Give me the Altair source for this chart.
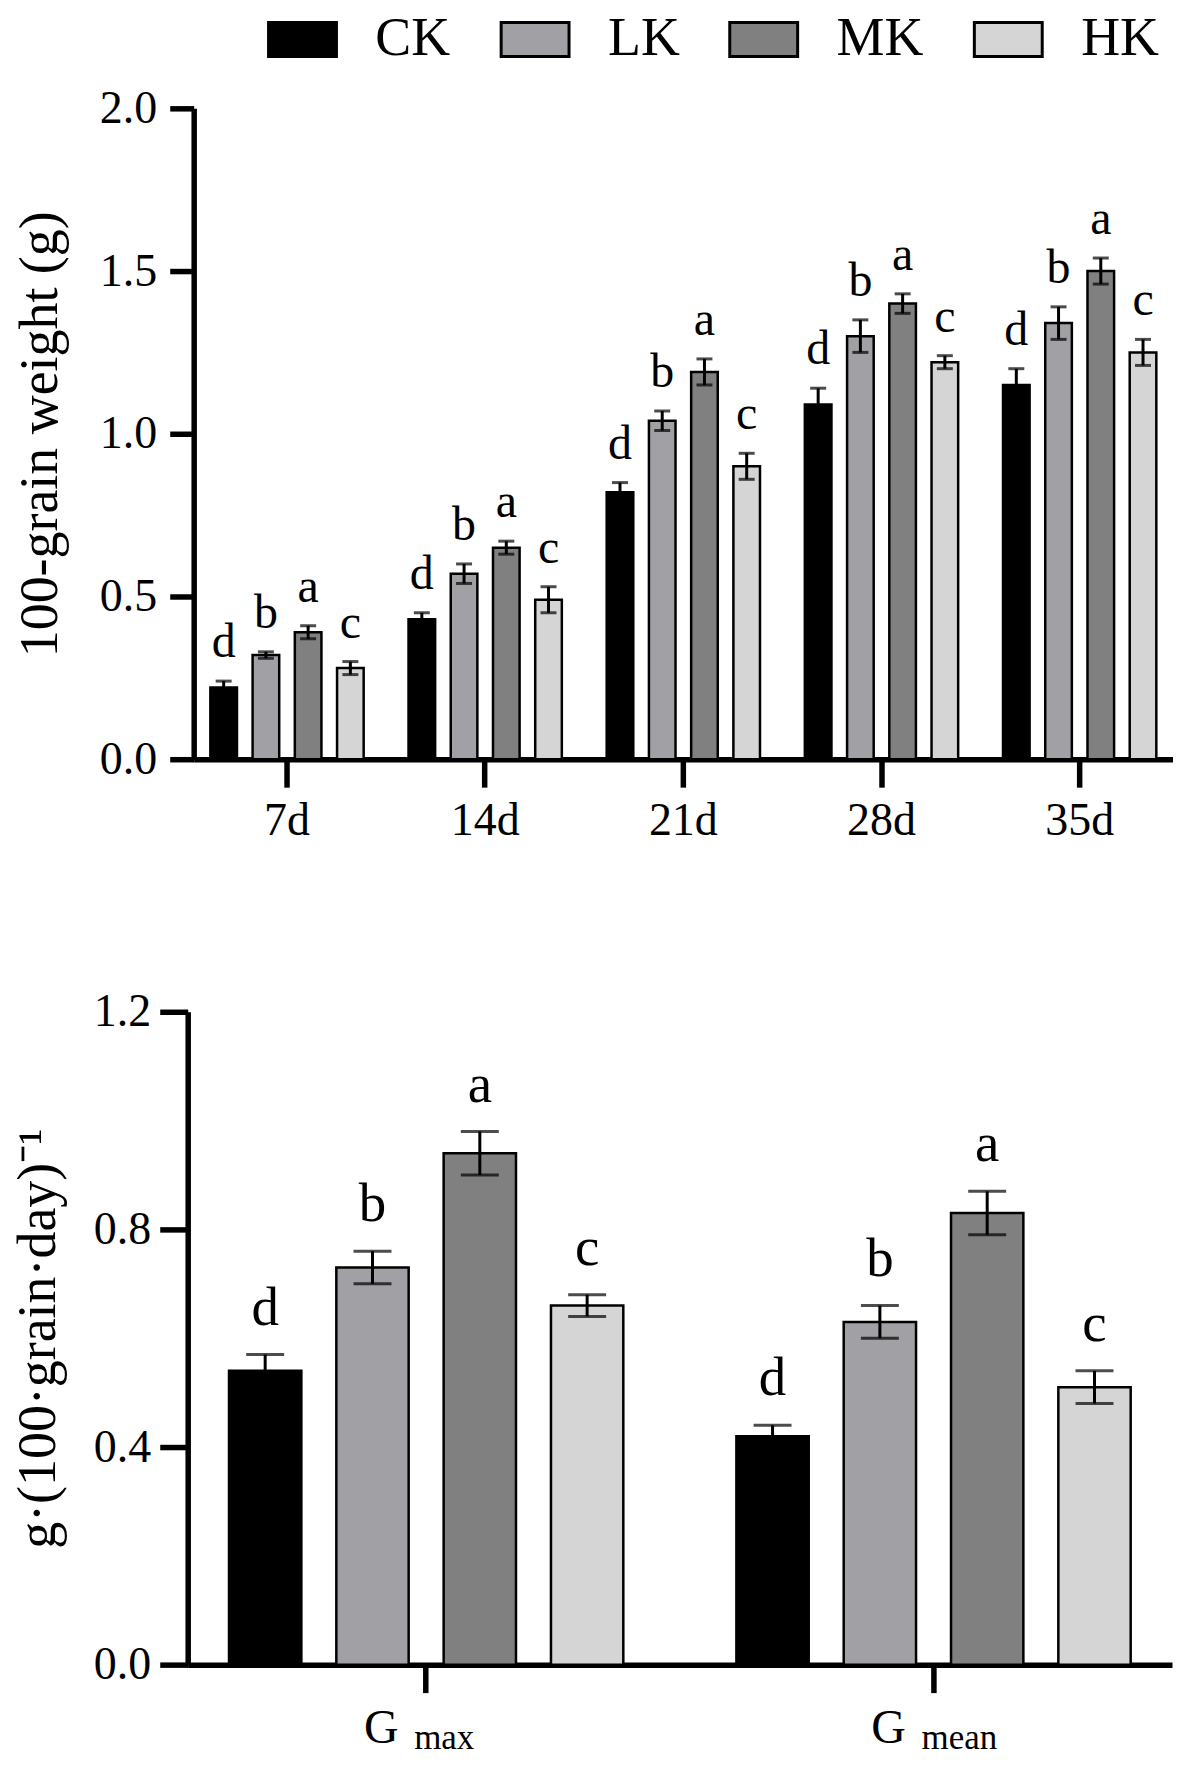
import altair as alt
import pandas as pd

FONT = "Liberation Serif"

# ---------------- data ----------------
days = ["7d", "14d", "21d", "28d", "35d"]
treatments = ["CK", "LK", "MK", "HK"]
colors = ["#000000", "#a1a1a5", "#808080", "#d5d5d5"]

weight_CK = [0.22, 0.43, 0.82, 1.09, 1.15]
weight_LK = [0.32, 0.57, 1.04, 1.30, 1.34]
weight_MK = [0.39, 0.65, 1.19, 1.40, 1.50]
weight_HK = [0.28, 0.49, 0.90, 1.22, 1.25]
werr_CK = [0.02, 0.02, 0.03, 0.05, 0.05]
werr_LK = [0.01, 0.03, 0.03, 0.05, 0.05]
werr_MK = [0.02, 0.02, 0.04, 0.03, 0.04]
werr_HK = [0.02, 0.04, 0.04, 0.02, 0.04]
wlet_CK = ["d", "d", "d", "d", "d"]
wlet_LK = ["b", "b", "b", "b", "b"]
wlet_MK = ["a", "a", "a", "a", "a"]
wlet_HK = ["c", "c", "c", "c", "c"]

params = ["Gmax", "Gmean"]
param_main = ["G", "G"]
param_sub = ["max", "mean"]
rate_CK = [0.54, 0.42]
rate_LK = [0.73, 0.63]
rate_MK = [0.94, 0.83]
rate_HK = [0.66, 0.51]
rerr_CK = [0.03, 0.02]
rerr_LK = [0.03, 0.03]
rerr_MK = [0.04, 0.04]
rerr_HK = [0.02, 0.03]
rlet_CK = ["d", "d"]
rlet_LK = ["b", "b"]
rlet_MK = ["a", "a"]
rlet_HK = ["c", "c"]

rows1 = []
for t, vals, errs, lets in zip(treatments,
                               [weight_CK, weight_LK, weight_MK, weight_HK],
                               [werr_CK, werr_LK, werr_MK, werr_HK],
                               [wlet_CK, wlet_LK, wlet_MK, wlet_HK]):
    for d, v, e, l in zip(days, vals, errs, lets):
        rows1.append(dict(grp=d, trt=t, val=v, lo=v - e, hi=v + e, letter=l))
df1 = pd.DataFrame(rows1)

rows2 = []
for t, vals, errs, lets in zip(treatments,
                               [rate_CK, rate_LK, rate_MK, rate_HK],
                               [rerr_CK, rerr_LK, rerr_MK, rerr_HK],
                               [rlet_CK, rlet_LK, rlet_MK, rlet_HK]):
    for d, v, e, l in zip(params, vals, errs, lets):
        rows2.append(dict(grp=d, trt=t, val=v, lo=v - e, hi=v + e, letter=l))
df2 = pd.DataFrame(rows2)
df_sub = pd.DataFrame(dict(grp=params, main=param_main, sub=param_sub, zero=[0, 0]))

cscale = alt.Scale(domain=treatments, range=colors)
AXW = 5.5

# ---------------- top chart ----------------
W1, H1 = 987, 652
x1 = alt.X("grp:N", sort=days,
           scale=alt.Scale(range=[6, W1], paddingInner=0.058, paddingOuter=0),
           axis=alt.Axis(title=None, labelAngle=0, labelFont=FONT, labelFontSize=46,
                         labelPadding=11, tickSize=28, tickWidth=AXW, domainWidth=AXW))
xo1 = alt.XOffset("trt:N", sort=treatments,
                  scale=alt.Scale(paddingInner=0.37, paddingOuter=0.395))
yax1 = alt.Axis(title="100-grain weight (g)", values=[0, 0.5, 1.0, 1.5, 2.0], format=".1f",
                titleFont=FONT, titleFontSize=54, titleFontWeight="normal", titlePadding=32,
                labelFont=FONT, labelFontSize=46, labelPadding=13,
                tickSize=24, tickWidth=AXW, domainWidth=AXW, offset=-6)
ysc1 = alt.Scale(domain=[0, 2], nice=False)


def y1(f):
    return alt.Y(f, scale=ysc1, axis=yax1)


legend = alt.Legend(orient="none", direction="horizontal", columns=4,
                    legendX=88, legendY=-96, title=None, padding=0,
                    symbolType="M-2,-1H2V1H-2Z", symbolSize=1156,
                    symbolStrokeColor="black", symbolStrokeWidth=3,
                    labelFont=FONT, labelFontSize=54, labelColor="black",
                    labelOffset=46, columnPadding=44)

bars1 = alt.Chart(df1).mark_bar(stroke="black", strokeWidth=2.5).encode(
    x=x1, xOffset=xo1, y=y1("val:Q"),
    color=alt.Color("trt:N", scale=cscale, legend=legend))
rules1 = alt.Chart(df1).mark_rule(color="black", strokeWidth=3).encode(
    x=x1, xOffset=xo1, y=y1("lo:Q"), y2="hi:Q")
caps1 = alt.Chart(df1).transform_fold(["lo", "hi"], as_=["end", "yv"]).mark_tick(
    color="black", thickness=3, size=16, orient="horizontal").encode(
    x=x1, xOffset=xo1, y=y1("yv:Q"))
text1 = alt.Chart(df1).mark_text(font=FONT, fontSize=48, dy=-24, baseline="alphabetic",
                                 color="black").encode(
    x=x1, xOffset=xo1, y=y1("hi:Q"), text="letter:N")
top = alt.layer(bars1, rules1, caps1, text1).properties(width=W1, height=H1)

# ---------------- bottom chart ----------------
W2, H2 = 986, 654
x2 = alt.X("grp:N", sort=params,
           scale=alt.Scale(paddingInner=0.06, paddingOuter=0),
           axis=alt.Axis(title=None, labelAngle=0, labelExpr="'G'", labelFont=FONT,
                         labelFontSize=48, labelPadding=12, labelOffset=-45,
                         tickSize=28, tickWidth=AXW, domainWidth=AXW))
xo2 = alt.XOffset("trt:N", sort=treatments,
                  scale=alt.Scale(paddingInner=0.326, paddingOuter=0.385))
yax2 = alt.Axis(title="g·(100·grain·day)⁻¹", values=[0, 0.4, 0.8, 1.2], format=".1f",
                titleFont=FONT, titleFontSize=54, titleFontWeight="normal", titlePadding=28,
                labelFont=FONT, labelFontSize=46, labelPadding=9,
                tickSize=28, tickWidth=AXW, domainWidth=AXW)
ysc2 = alt.Scale(domain=[0, 1.2], nice=False)


def y2(f):
    return alt.Y(f, scale=ysc2, axis=yax2)


bars2 = alt.Chart(df2).mark_bar(stroke="black", strokeWidth=2.5).encode(
    x=x2, xOffset=xo2, y=y2("val:Q"),
    color=alt.Color("trt:N", scale=cscale, legend=None))
rules2 = alt.Chart(df2).mark_rule(color="black", strokeWidth=3).encode(
    x=x2, xOffset=xo2, y=y2("lo:Q"), y2="hi:Q")
caps2 = alt.Chart(df2).transform_fold(["lo", "hi"], as_=["end", "yv"]).mark_tick(
    color="black", thickness=3, size=38, orient="horizontal").encode(
    x=x2, xOffset=xo2, y=y2("yv:Q"))
text2 = alt.Chart(df2).mark_text(font=FONT, fontSize=55, dy=-30, baseline="alphabetic",
                                 color="black").encode(
    x=x2, xOffset=xo2, y=y2("hi:Q"), text="letter:N")
subs = alt.Chart(df_sub).mark_text(font=FONT, fontSize=35, align="left", baseline="alphabetic",
                                   dx=-12, dy=84, color="black").encode(
    x=x2, y=y2("zero:Q"), text="sub:N")
bottom = alt.layer(bars2, rules2, caps2, text2, subs).properties(width=W2, height=H2)

chart = alt.vconcat(top, bottom, spacing=146).resolve_scale(
    color="independent", xOffset="independent"
).properties(
    padding={"left": 3, "top": 3, "right": 0, "bottom": 0}
).configure_view(stroke=None).configure_axis(
    grid=False, domainColor="black", tickColor="black", labelColor="black", titleColor="black"
)

chart.save("out.html", embed_options={"renderer": "svg", "actions": False})
